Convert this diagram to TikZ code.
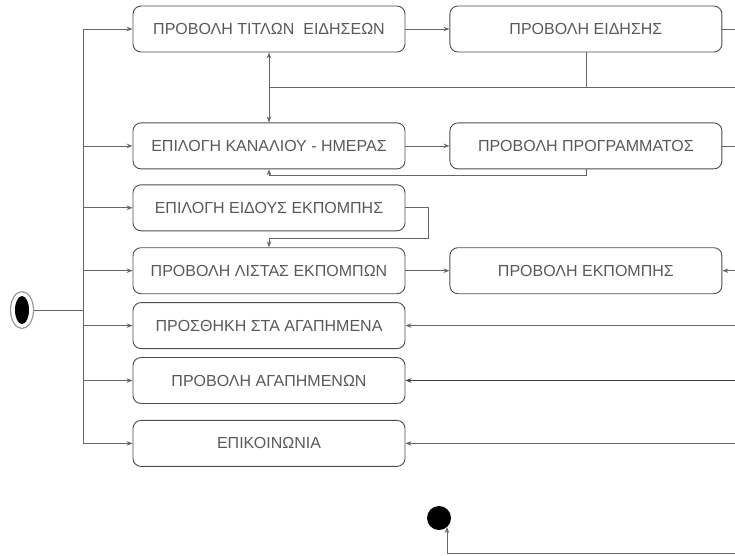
\documentclass[tikz,border=0pt]{standalone}
\usepackage{fontspec}
\setmainfont{Liberation Sans}
\usetikzlibrary{positioning,shapes.geometric,arrows.meta}

\begin{document}
\begin{tikzpicture}[x=1pt, y=-1pt,
  main/.style = {draw=black!70, rounded corners=8pt, minimum width=272pt, minimum height=46pt, inner sep=0pt, line width=0.9pt, text=black!65, font=\fontsize{16}{18}\selectfont},
  line/.style = {draw=black!60, line width=0.8pt},
  flow/.style = {line, -{Stealth[length=6pt,width=4.5pt]}},
  node distance={44pt}]
\useasboundingbox (0,0) rectangle (735,555);
\node[main] (1) at (269,29) {ΠΡΟΒΟΛΗ ΤΙΤΛΩΝ\ \ ΕΙΔΗΣΕΩΝ};
\node[main] (2) [below=70pt of 1] {ΕΠΙΛΟΓΗ ΚΑΝΑΛΙΟΥ - ΗΜΕΡΑΣ};
\node[main] (3) [below=15pt of 2] {ΕΠΙΛΟΓΗ ΕΙΔΟΥΣ ΕΚΠΟΜΠΗΣ};
\node[main] (4) [below=16pt of 3] {ΠΡΟΒΟΛΗ ΛΙΣΤΑΣ ΕΚΠΟΜΠΩΝ};
\node[main] (5) [below=8pt of 4] {ΠΡΟΣΘΗΚΗ ΣΤΑ ΑΓΑΠΗΜΕΝΑ};
\node[main] (6) [below=8pt of 5] {ΠΡΟΒΟΛΗ ΑΓΑΠΗΜΕΝΩΝ};
\node[main] (7) [below=16pt of 6] {ΕΠΙΚΟΙΝΩΝΙΑ};
\node[main] (8) [right=of 1] {ΠΡΟΒΟΛΗ ΕΙΔΗΣΗΣ};
\node[main] (9) [right=of 2] {ΠΡΟΒΟΛΗ ΠΡΟΓΡΑΜΜΑΤΟΣ};
\node[main] (10) [right=of 4] {ΠΡΟΒΟΛΗ ΕΚΠΟΜΠΗΣ};
% start and end
\node[draw=black!40, ellipse, minimum width=23pt, minimum height=37pt, line width=1.2pt] (0) at (22,310) {};
\fill (0) ellipse (7pt and 14pt);
\node[fill=black, circle, minimum size=24pt, inner sep=0pt] (11) at (439,518) {};
\coordinate (t) at (83,310);
\coordinate (r) at (735,0);
\coordinate (bus) at (0,87);
\coordinate (low) at (447,553);
% trunk on the left
\draw[line] (0) -- (t);
\draw[line] (t |- 1) -- (t |- 7);
\draw[flow] (t |- 1) -- (1);
\draw[flow] (t |- 2) -- (2);
\draw[flow] (t |- 3) -- (3);
\draw[flow] (t |- 4) -- (4);
\draw[flow] (t |- 5) -- (5);
\draw[flow] (t |- 6) -- (6);
\draw[flow] (t |- 7) -- (7);
% transitions
\draw[flow] (1) -- (8);
\draw[line] (8) -- (r |- 8);
\draw[line] (8.south) -- (8.south |- bus);
\draw[line] (1.south |- bus) -- (r |- bus);
\draw[line, {Stealth[length=6pt,width=4.5pt]}-{Stealth[length=6pt,width=4.5pt]}] (1) -- (2);
\draw[flow] (2) -- (9);
\draw[line] (9) -- (r |- 9);
\draw[flow] (9.south) -- ++(0,6) -| (2.south);
\draw[flow] (3.east) -- ++(23,0) -- ++(0,31) -| (4.north);
\draw[flow] (4) -- (10);
\draw[flow] (r |- 10) -- (10);
\draw[flow] (r |- 5) -- (5);
\draw[flow, line width=1.3pt, draw=black!75] (r |- 6) -- (6);
\draw[flow] (r |- 7) -- (7);
\draw[flow] (r |- low) -- (low) -- ++(0,-26);
\end{tikzpicture}
\end{document}
